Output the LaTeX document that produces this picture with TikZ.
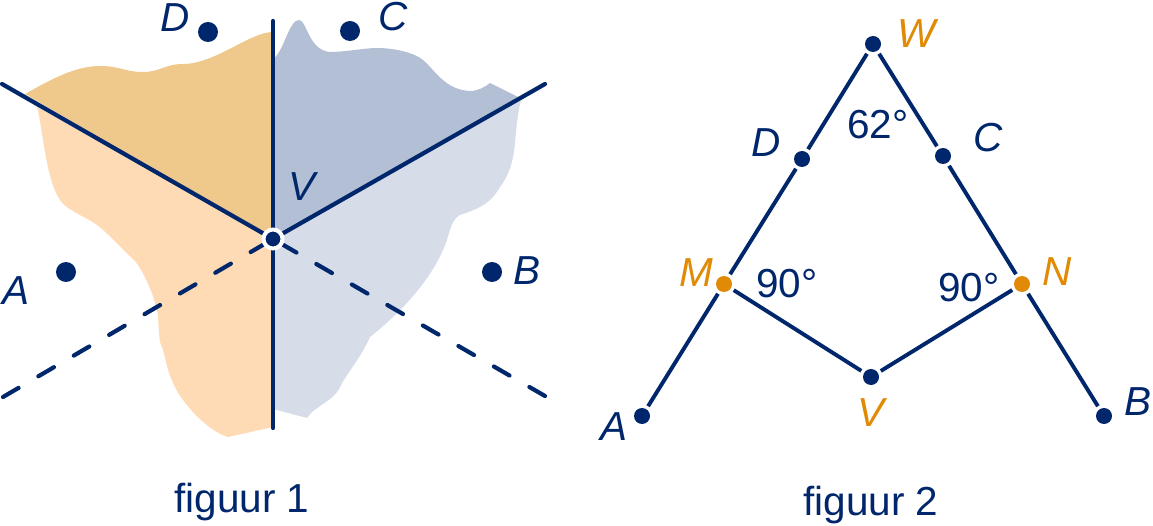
\documentclass[tikz,border=0pt]{standalone}
\usepackage{fontspec}
\setmainfont{Liberation Sans}
\definecolor{navy}{HTML}{00266B}
\definecolor{geel}{HTML}{E08A06}
\definecolor{lichtoranje}{HTML}{FEDBB5}
\definecolor{donkeroranje}{HTML}{EFC88C}
\definecolor{lichtblauw}{HTML}{D6DCE8}
\definecolor{donkerblauw}{HTML}{B3BFD4}
\tikzset{
  lijn/.style={draw=navy,line width=4.2pt,line cap=round},
  lijn2/.style={draw=navy,line width=3.9pt},
  streep/.style={lijn,dash pattern=on 18pt off 23pt},
  punt/.style={circle,fill=navy,inner sep=0pt,minimum size=20pt},
  ringpunt/.style={circle,fill=navy,draw=white,line width=4pt,inner sep=0pt,minimum size=19pt},
  kleinpunt/.style={circle,fill=navy,inner sep=0pt,minimum size=16pt,outer sep=3.5pt},
  oranjepunt/.style={kleinpunt,fill=geel},
  lab/.style={text=navy,inner sep=0pt,font=\fontsize{40.5}{41}\selectfont\itshape},
  oranjelab/.style={lab,text=geel},
  tekst/.style={text=navy,inner sep=0pt,font=\fontsize{40.5}{41}\selectfont}
}
\begin{document}
\begin{tikzpicture}[x=1pt,y=-1pt]
\useasboundingbox (0,0) rectangle (1153,526);

% figuur 1: gebieden
\fill[lichtoranje] (273,239) -- (37,107) .. controls (43,130) and (46,180) .. (60,200)
  .. controls (66,210) and (88,218) .. (97,225)
  .. controls (110,235) and (125,252) .. (135,261)
  .. controls (148,278) and (157,305) .. (158,317)
  .. controls (159,330) and (159,340) .. (161,345)
  .. controls (165,352) and (165,365) .. (173,383)
  .. controls (180,400) and (205,430) .. (228,437) -- (273,427) -- cycle;
\fill[donkeroranje] (273,239) -- (25,94) .. controls (50,80) and (75,66) .. (100,66)
  .. controls (120,66) and (125,72) .. (143,72)
  .. controls (160,72) and (165,64) .. (183,64)
  .. controls (215,64) and (250,32) .. (273,32) -- cycle;
\fill[lichtblauw] (273,239) -- (521,100) .. controls (512,135) and (520,160) .. (500,187)
  .. controls (490,205) and (475,210) .. (460,215)
  .. controls (450,220) and (450,235) .. (443,250)
  .. controls (432,275) and (410,305) .. (370,337)
  .. controls (362,355) and (350,370) .. (342,383)
  .. controls (335,402) and (315,405) .. (307,418) -- (273,409) -- cycle;
\fill[donkerblauw] (273,239) -- (273,60) -- (277,55)
  .. controls (285,45) and (290,20) .. (299,20)
  .. controls (307,20) and (308,50) .. (330,52)
  .. controls (345,52) and (365,48) .. (377,48)
  .. controls (395,48) and (415,53) .. (423,60)
  .. controls (435,70) and (445,90) .. (470,91)
  .. controls (478,91) and (485,87) .. (490,83) -- (518,97) -- cycle;

% figuur 1: lijnen
\coordinate (v1) at (273,239);
\coordinate (boven) at (273,21);
\coordinate (onder) at (273,428);
\coordinate (linksboven) at (2,84);
\coordinate (rechtsboven) at (545,84);
\coordinate (linksonder) at (3,397);
\coordinate (rechtsonder) at (545,396);
\draw[lijn] (boven) -- (onder);
\draw[lijn] (v1) -- (linksboven);
\draw[lijn] (v1) -- (rechtsboven);
\draw[streep] (linksonder) -- (v1);
\draw[streep] (rechtsonder) -- (v1);
\node[ringpunt] (pv1) at (v1) {};
\node[punt] (pa1) at (66,272) {};
\node[punt] (pb1) at (492,272) {};
\node[punt] (pc1) at (350,31) {};
\node[punt] (pd1) at (208,32) {};
\node[lab] (la1) at (16,291) {A};
\node[lab] (lb1) at (527,271) {B};
\node[lab] (lc1) at (393,17) {C};
\node[lab] (ld1) at (175,18) {D};
\node[lab] (lv1) at (302,187) {V};
\node[tekst] (fig1) at (242,502) {figuur 1};

% figuur 2
\node[kleinpunt] (w) at (873,44) {};
\node[kleinpunt] (d) at (802,159) {};
\node[kleinpunt] (c) at (943,156) {};
\node[oranjepunt] (m) at (724,284) {};
\node[oranjepunt] (n) at (1022,284) {};
\node[kleinpunt] (v) at (871,377) {};
\node[kleinpunt] (a) at (642,416) {};
\node[kleinpunt] (b) at (1104,416) {};
\draw[lijn2] (w) -- (d);
\draw[lijn2] (d) -- (m);
\draw[lijn2] (m) -- (a);
\draw[lijn2] (w) -- (c);
\draw[lijn2] (c) -- (n);
\draw[lijn2] (n) -- (b);
\draw[lijn2] (m) -- (v);
\draw[lijn2] (n) -- (v);
\node[lab] (la2) at (614,427) {A};
\node[lab] (lb2) at (1138,402) {B};
\node[lab] (lc2) at (988,138) {C};
\node[lab] (ld2) at (766,143) {D};
\node[oranjelab] (lw2) at (917,34) {W};
\node[oranjelab] (lm2) at (696,273) {M};
\node[oranjelab] (ln2) at (1057,272) {N};
\node[oranjelab] (lv2) at (871,413) {V};
\node[tekst] (hoekw) at (878,125) {62°};
\node[tekst] (hoekm) at (787,284) {90°};
\node[tekst] (hoekn) at (969,288) {90°};
\node[tekst] (fig2) at (871,505) {figuur 2};
\end{tikzpicture}
\end{document}
